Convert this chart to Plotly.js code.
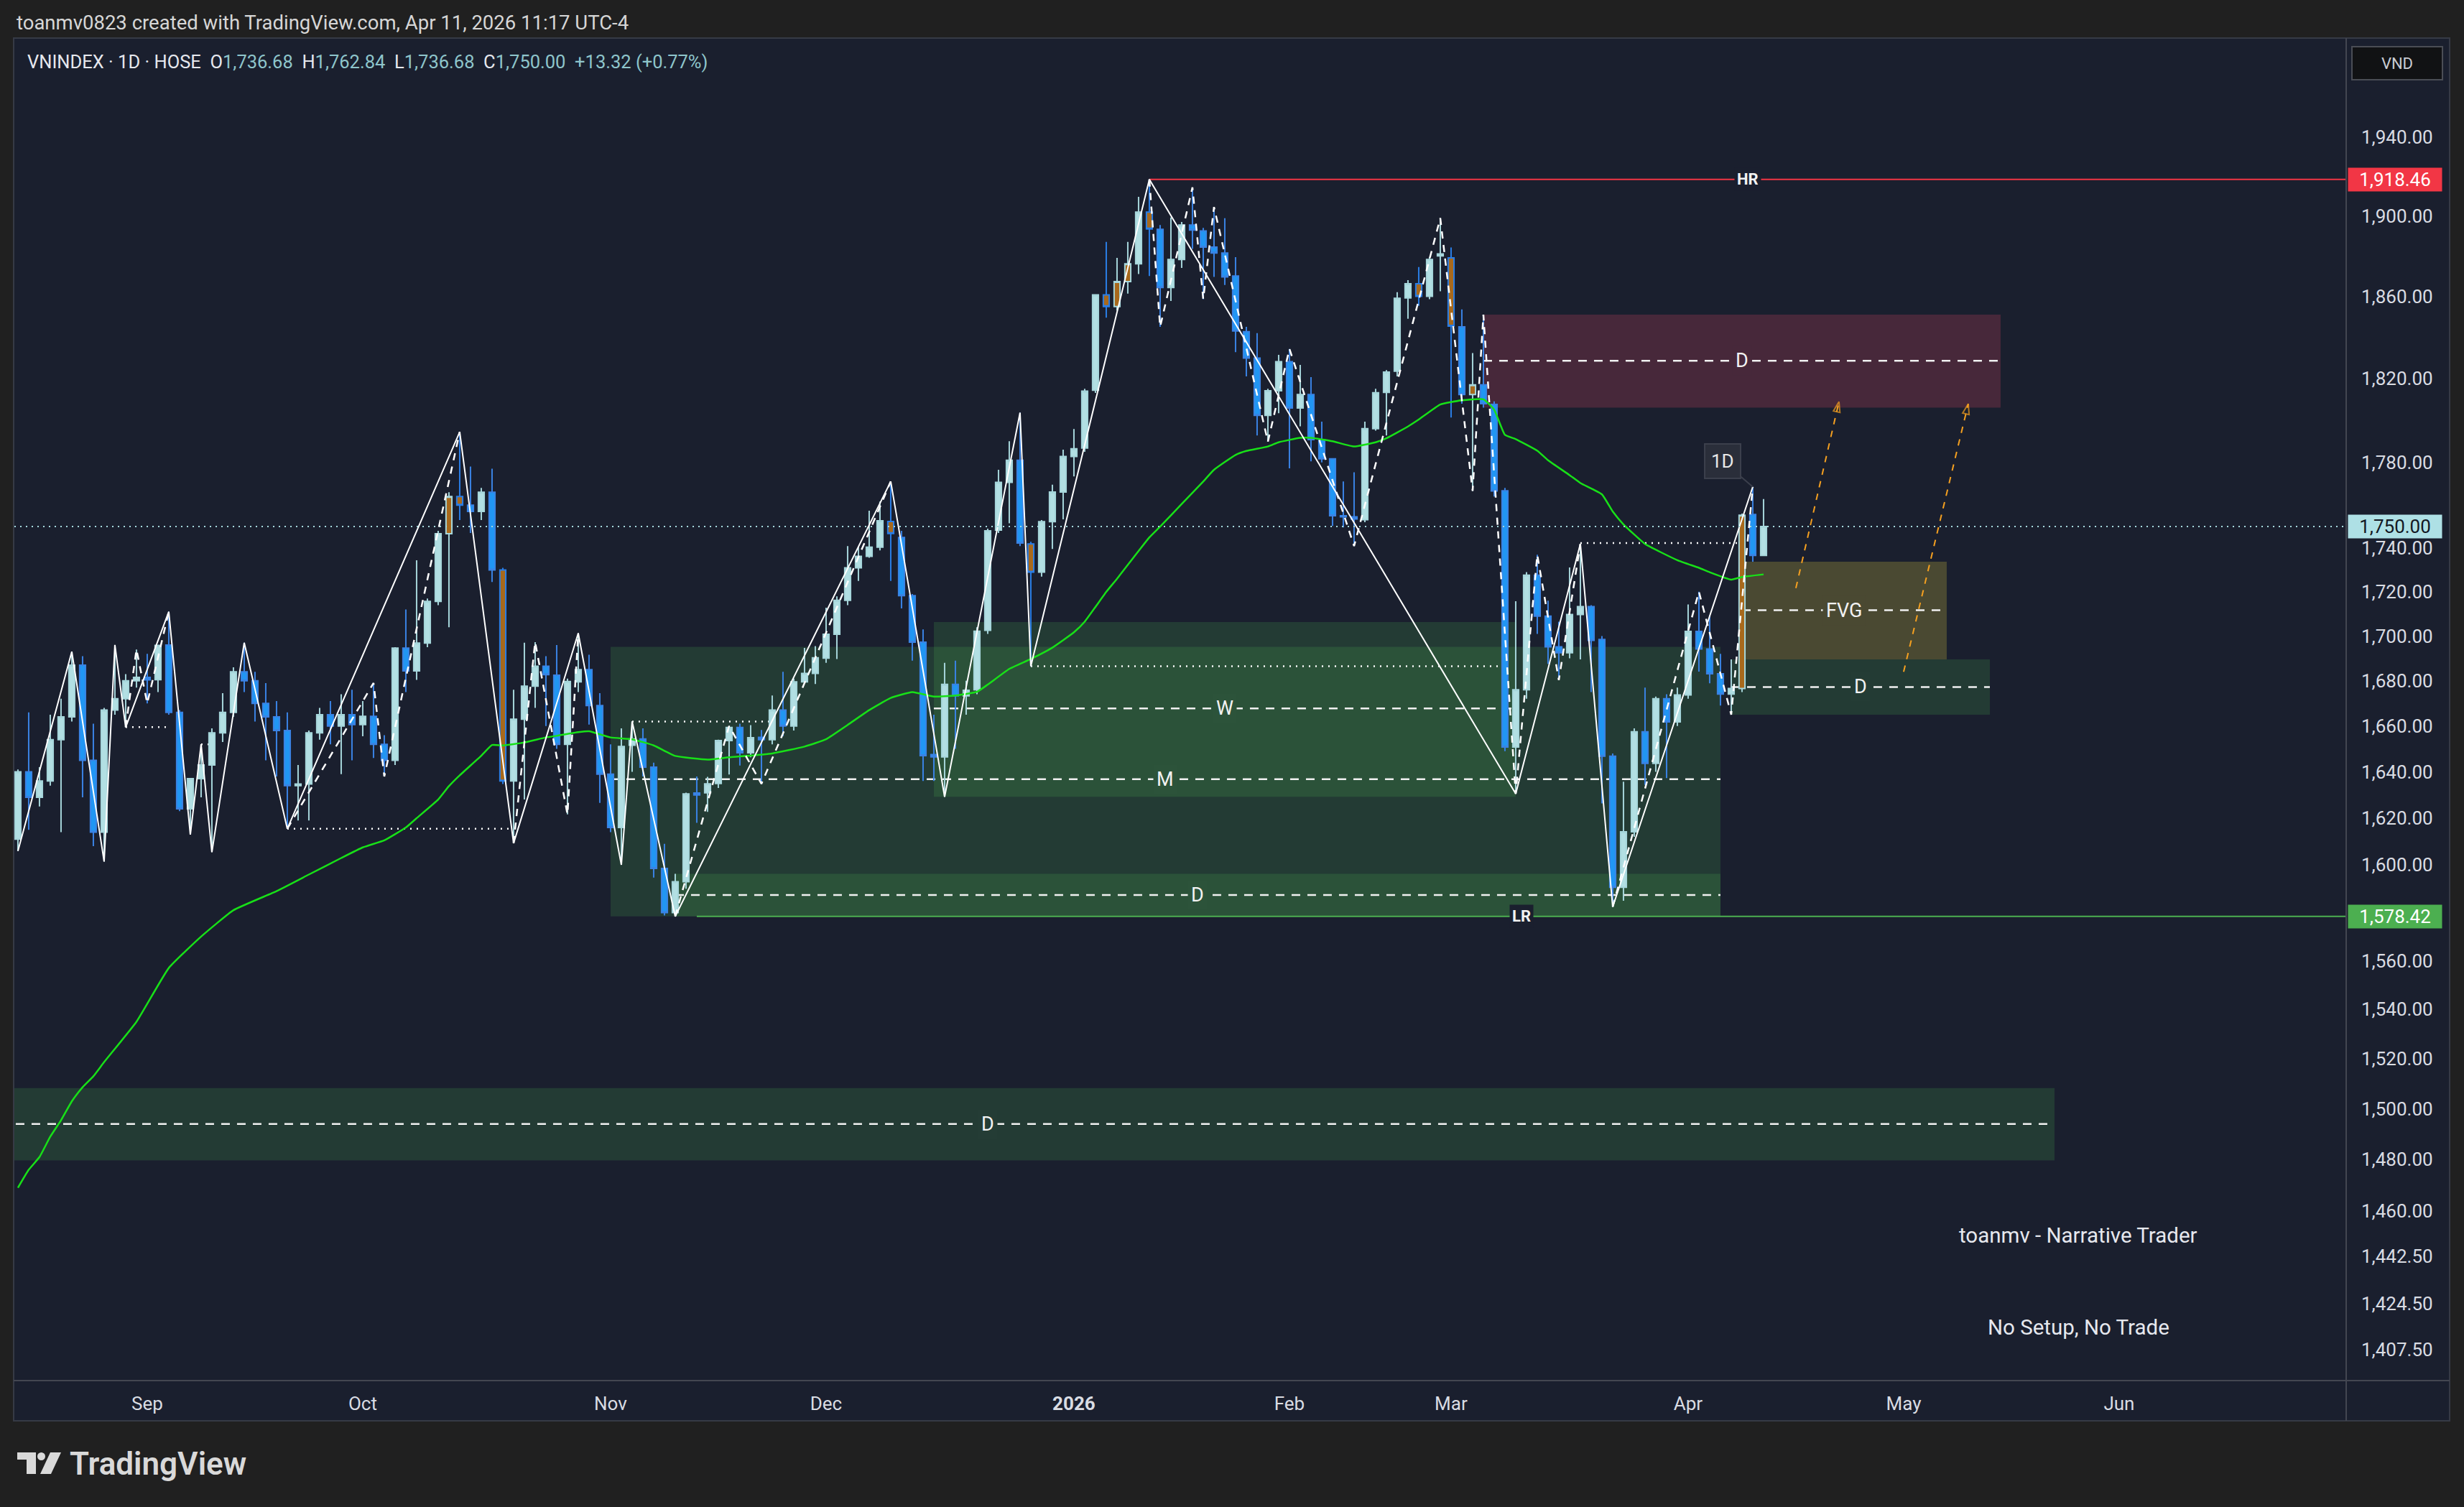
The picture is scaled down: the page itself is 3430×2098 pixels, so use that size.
<!DOCTYPE html>
<html>
<head>
<meta charset="utf-8">
<script src="https://cdn.plot.ly/plotly-3.0.1.min.js"></script>
<style>
html,body{margin:0;padding:0;background:#202020;}
#chart{width:3430px;height:2098px;}
</style>
</head>
<body>
<div id="chart"></div>
<script>
// ---------------- calendar (HOSE trading days) ----------------
const calendarStart = '2025-08-01';
const calendarEnd = '2026-06-30';
const holidays = ['2025-09-01','2025-09-02','2026-01-01','2026-01-02','2026-02-16','2026-02-17',
  '2026-02-18','2026-02-19','2026-02-20','2026-04-27','2026-04-30','2026-05-01'];

// ---------------- daily OHLC, first bar 2025-08-14 ----------------
const firstBar = '2025-08-14';
const open = [1611,1640,1629,1636,1654,1664,1687,1645,1614,1667,1672,1680,1681.5,1680.5,1696,1666,1624,1637,1643,1657,
  1666,1684,1680,1670,1664,1658,1634,1634.7,1657,1665,1660,1665,1660.6,1664.3,1652,1645,1694.6,1684.4,1696.9,1715.7,
  1746.7,1764,1760,1757,1766,1730,1636,1663,1677.6,1686.5,1682.5,1652,1679.5,1685,1669,1639,1616,1651.6,1654.3,1642,
  1598.6,1580,1593,1630.8,1630.9,1634.9,1653.6,1659.4,1648.3,1655,1654,1667,1660,1679.5,1683.3,1690.1,1700.8,1716.2,1731,1736.3,
  1740.5,1752.4,1745,1718.3,1697.3,1647.5,1646.5,1678.4,1673.3,1676,1702.6,1748.4,1770.6,1781,1742,1729,1752.3,1766.1,1782.8,1786.8,
  1814.3,1860.7,1855,1867.3,1876.1,1901.9,1893.3,1864.3,1878.2,1895.4,1892.5,1884.4,1881.4,1870,1842.7,1829.8,1802.3,1814.1,1828.1,1805.8,
  1812.3,1790.8,1781.7,1755,1754.5,1753.2,1796,1813.3,1823.5,1859.2,1866.2,1860,1880,1879,1845,1812.3,1816.9,1807.5,1766.7,1650.8,
  1676,1727.6,1709,1695.2,1692.5,1709.7,1713.3,1698.5,1646.8,1590.6,1614.2,1657.5,1643.7,1672,1661.8,1673.7,1702.1,1694.2,1683.1,1674.1,
  1676.6,1755.6,1736.68];
const high = [1641,1666,1642,1665,1672,1693,1691,1661,1668,1696,1683,1694,1692,1696,1711,1667,1637,1652,1659,1674.5,
  1686,1697,1684,1679,1671,1666,1643,1658,1668,1671,1674,1676,1671,1679,1656,1695,1712,1734.5,1717,1748,
  1766,1794.4,1778,1768,1777,1731,1676,1697,1697.3,1691,1696,1681,1701.3,1691.6,1674.5,1652,1659,1662,1659,1644,
  1609,1596.3,1631,1638,1637.8,1654,1660,1661,1660.4,1658.3,1673.5,1684,1681,1694.7,1695.5,1712.8,1718,1741,1740.5,1757.4,
  1761.6,1771,1748,1719,1703,1665,1688,1689,1680,1704,1749,1776.5,1790,1803.6,1743,1753,1769.5,1786,1795.8,1815,
  1861,1887,1879,1887,1909.6,1918.46,1895.4,1899.2,1897,1914.4,1894,1904.5,1898.9,1879.4,1845,1842,1815,1831.4,1834.3,1826.5,
  1820.6,1799.3,1782,1771,1775.3,1799.3,1815,1824,1862,1868,1874.5,1879.4,1898.9,1884.2,1853.6,1832.3,1851,1809,1768,1715.8,
  1729,1737,1716,1706.5,1731.2,1742,1714,1700,1648,1635.7,1659,1677,1673,1674,1677,1714.3,1720.1,1709.4,1692,1689.5,
  1756,1768.5,1762.84];
const low = [1606,1615,1625,1634,1614,1662,1629,1608,1601.5,1665,1659.5,1677,1670,1675,1665,1623,1613,1629,1605.5,1653,
  1664,1675,1662,1645,1638,1615.5,1619,1619,1654,1652,1639,1645,1655.5,1646,1638,1643,1675,1680.4,1695,1714,
  1704,1753,1747,1753,1724.5,1634.7,1609.3,1628,1668,1660,1650,1621.6,1675,1660.6,1626.6,1614,1600.1,1640,1638,1594.7,
  1578.8,1578.42,1590,1618,1622.7,1633,1638.8,1642.7,1646.3,1634.8,1652,1655.6,1658,1678.9,1678.6,1688,1689.7,1714,1725,1735.6,
  1739,1725,1712.5,1689,1636,1636,1629.2,1650,1665,1674,1701,1747,1751.5,1741,1686.5,1727,1739.7,1753.4,1773.4,1785,
  1813,1849.5,1853,1861.3,1871,1870,1845,1857.7,1874,1883.5,1858.6,1869.6,1865.6,1832.7,1821,1792.7,1789.8,1803.3,1777.2,1797.1,
  1780.5,1780,1750.3,1749.6,1741,1752,1795,1792.7,1821,1849,1855.3,1858.6,1862.5,1801.3,1807.9,1766.6,1806,1764,1649,1630.5,
  1672,1701,1687.5,1680.3,1690,1689.5,1675,1626.3,1582.4,1585,1612,1634.3,1640,1637.3,1660,1672,1684.1,1678.9,1669,1665,
  1675,1733.8,1736.68];
const close = [1640,1629,1636,1654,1664,1687,1645,1614,1667,1672,1680,1681.5,1680.4,1695.8,1666,1624,1637,1643,1657,1666,
  1684,1680,1670,1664,1658,1634,1634.7,1657,1665,1660,1665,1660.6,1664.3,1652,1645,1694.6,1684.4,1696.9,1715.7,1746.7,
  1764,1760,1757,1766,1730,1636,1663,1677.6,1686.5,1682.7,1652,1679.7,1685,1669,1639,1616,1651,1654.3,1642,1598.6,
  1580,1593,1630.4,1630,1634.8,1653.6,1659.4,1648.3,1654.9,1654,1667,1660,1679.5,1683.3,1690.3,1700.8,1716.2,1731,1736.3,1740.5,
  1752.7,1746.8,1718.3,1697.3,1647,1646.5,1678.4,1673.3,1675.8,1702.2,1748,1770.6,1781,1742.4,1729,1752.3,1766.1,1782.8,1786.4,1813.9,
  1860.7,1855,1867.3,1876.1,1901.9,1893.5,1864.3,1878.2,1895.4,1892.9,1884.4,1881.4,1869.6,1843,1829.8,1802.3,1814.1,1828.1,1805.8,1812.3,
  1790.8,1781.7,1755,1754.5,1753.5,1796,1813.1,1823.1,1859,1866.2,1860,1878.2,1881,1845.4,1812.3,1816.9,1807.9,1766.6,1650.8,1676,
  1727.6,1709,1695.2,1692.5,1709.7,1713.3,1698.1,1646.8,1590.6,1614.2,1657.5,1643.7,1672,1661.8,1673.7,1702.1,1694.2,1683.1,1674.1,1676.6,
  1755.3,1736.68,1750.00];
// bars highlighted in orange on the reference
const orangeBars = ['2025-10-13','2025-10-14','2025-10-20','2025-12-09','2025-12-26','2026-01-08','2026-01-09',
  '2026-01-12','2026-01-14','2026-02-25','2026-03-02','2026-03-04','2026-04-08'];

// ---------------- moving average ----------------
const smaDates = ['2025-08-14','2025-08-15','2025-08-18','2025-08-19','2025-08-20','2025-08-21','2025-08-22','2025-08-25','2025-08-26','2025-08-29',
  '2025-09-05','2025-09-10','2025-09-15','2025-09-19','2025-09-24','2025-09-29','2025-10-01','2025-10-03','2025-10-07','2025-10-08',
  '2025-10-10','2025-10-13','2025-10-14','2025-10-16','2025-10-17','2025-10-20','2025-10-22','2025-10-24','2025-10-27','2025-10-29',
  '2025-10-30','2025-11-03','2025-11-05','2025-11-07','2025-11-11','2025-11-14','2025-11-18','2025-11-24','2025-11-27','2025-12-01',
  '2025-12-03','2025-12-05','2025-12-09','2025-12-11','2025-12-15','2025-12-17','2025-12-19','2025-12-22','2025-12-24','2025-12-26',
  '2025-12-30','2026-01-05','2026-01-06','2026-01-08','2026-01-09','2026-01-14','2026-01-15','2026-01-19','2026-01-21','2026-01-22',
  '2026-01-26','2026-01-27','2026-01-29','2026-01-30','2026-02-03','2026-02-04','2026-02-06','2026-02-10','2026-02-12','2026-02-13',
  '2026-02-24','2026-02-25','2026-02-27','2026-03-03','2026-03-05','2026-03-06','2026-03-09','2026-03-10','2026-03-12','2026-03-13',
  '2026-03-17','2026-03-18','2026-03-20','2026-03-23','2026-03-24','2026-03-26','2026-03-31','2026-04-02','2026-04-03','2026-04-07',
  '2026-04-08','2026-04-10'];
const smaValues = [1469,1476,1481,1489,1495.5,1503,1508.6,1513,1518.7,1535,
  1557,1570,1581,1589,1596,1603,1607.5,1610.5,1616,1620,
  1628,1633.8,1638.5,1647,1651.7,1651.5,1652.8,1655,1655.7,1657.3,
  1657.7,1655,1654.2,1651.5,1646.9,1645.3,1646.3,1648,1651,1654.2,
  1660.5,1667,1672.4,1675,1673,1673.5,1675.1,1678.3,1685.3,1689.7,
  1694.8,1701.7,1706.5,1720,1726,1745,1750,1760.5,1771,1776.5,
  1783.5,1785.4,1787.5,1789.5,1791.6,1791.6,1790,1787.5,1789.5,1791.4,
  1797,1800.3,1807.5,1809.5,1810,1805,1793,1791,1785.5,1781,
  1774,1770.3,1765,1757,1751,1742,1734.5,1731,1729,1725.6,
  1726.8,1728];

// ---------------- swing structure ----------------
const swingDates = ['2025-08-14','2025-08-21','2025-08-26','2025-08-27','2025-08-28','2025-09-05','2025-09-09','2025-09-10','2025-09-11',
  '2025-09-16','2025-09-22','2025-10-14','2025-10-21','2025-10-29','2025-11-04','2025-11-05','2025-11-11','2025-12-09','2025-12-16',
  '2025-12-25','2025-12-26','2026-01-14','2026-03-10','2026-03-18','2026-03-23','2026-04-09'];
const swingPrices = [1606,1693,1601.5,1696,1659.5,1711,1613,1652,1605.5,
  1697,1615.5,1794.4,1609.3,1701.3,1600.1,1662,1578.42,1771,1629.2,
  1803.6,1686.5,1918.46,1630.5,1742,1582.4,1768.5];
const minorDates = ['2025-08-28','2025-08-29','2025-09-03','2025-09-05',null,
  '2025-09-22','2025-10-02','2025-10-03','2025-10-14',null,
  '2025-10-21','2025-10-23','2025-10-28','2025-10-29',null,
  '2025-11-11','2025-11-18','2025-11-21','2025-12-09',null,
  '2026-01-14','2026-01-15','2026-01-20','2026-01-21','2026-01-22','2026-01-29','2026-02-02','2026-02-10','2026-02-27',
  '2026-03-04','2026-03-05','2026-03-10','2026-03-12','2026-03-16','2026-03-18',null,
  '2026-03-23','2026-04-02','2026-04-07','2026-04-09'];
const minorPrices = [1659.5,1694,1670,1711,null,
  1615.5,1679,1638,1794.4,null,
  1609.3,1697.3,1621.6,1701.3,null,
  1578.42,1660,1634.8,1771,null,
  1918.46,1845,1914.4,1858.6,1904.5,1789.8,1834.3,1741,1898.9,
  1766.6,1851,1630.5,1737,1680.3,1742,null,
  1582.4,1720.1,1665,1768.5];
// broken-level lines: start, end, price
const levelStart = ['2025-08-28','2025-09-10','2025-09-22','2025-11-05','2025-12-26','2026-03-18'];
const levelEnd   = ['2025-09-05','2025-09-11','2025-10-21','2025-11-24','2026-03-09','2026-04-08'];
const levelPrice = [1659.5,1652,1615.5,1662,1686.5,1742.4];

// ---------------- zones ----------------
const zoneLabel = ['M','W','D','D','FVG','D','D'];
const zoneKind  = ['demand','demand','demand','supply','fvg','demand','demand'];
const zoneStart = ['2025-11-03','2025-12-15','2025-11-11','2026-03-05','2026-04-08','2026-04-07','2025-08-01'];
const zoneEnd   = ['2026-04-06','2026-03-10','2026-04-06','2026-05-15','2026-05-08','2026-05-14','2026-05-22'];
const zoneLow   = [1578.42,1629.2,1578.42,1806,1689.5,1665,1479.7];
const zoneHigh  = [1695.2,1706.3,1596.3,1851,1733.8,1689.5,1508.3];

// key levels
const hrPrice = 1918.46, hrStart = '2026-01-14';
const lrPrice = 1578.42, lrStart = '2025-11-13';
const lastPrice = 1750.00;

// projected paths (start, end)
const pathStart = [['2026-04-15',1721.7],['2026-05-04',1684.0]];
const pathEnd   = [['2026-04-21',1808.8],['2026-05-12',1807.8]];

const priceTicks = [1940,1900,1860,1820,1780,1740,1720,1700,1680,1660,1640,1620,1600,1560,1540,1520,1500,1480,1460,1442.5,1424.5,1407.5];

// ---------------- build ----------------
const calendar = [];
for (let d = new Date(calendarStart + 'T00:00:00Z'); d <= new Date(calendarEnd + 'T00:00:00Z'); d.setUTCDate(d.getUTCDate() + 1)) {
  const wd = d.getUTCDay();
  const s = d.toISOString().slice(0, 10);
  if (wd === 0 || wd === 6 || holidays.includes(s)) continue;
  calendar.push(s);
}
const idx = s => calendar.indexOf(s);
const i0 = idx(firstBar);
const barDates = calendar.slice(i0, i0 + open.length);
const xs = barDates.map(idx);
const isOrange = barDates.map(d => orangeBars.includes(d));
const pick = (arr, want) => arr.filter((_, i) => isOrange[i] === want);

const monthNames = ['Jan','Feb','Mar','Apr','May','Jun','Jul','Aug','Sep','Oct','Nov','Dec'];
const tickvals = [], ticktext = [];
calendar.forEach((d, i) => {
  if (i > 0 && d.slice(5, 7) !== calendar[i - 1].slice(5, 7)) {
    const m = +d.slice(5, 7) - 1;
    tickvals.push(i);
    ticktext.push(m === 0 ? '<b>' + d.slice(0, 4) + '</b>' : monthNames[m]);
  }
});
const fmt = v => v.toLocaleString('en-US', {minimumFractionDigits: 2, maximumFractionDigits: 2});
const L10 = Math.log10;

// geometry
const PL = 20, PR = 3266, PT = 53, PB = 1922;
const px2x = p => (p - PL) / (PR - PL);
const py2y = p => (PB - p) / (PB - PT);
const xMin = i0 - 0.33, xMax = idx(calendarEnd) + 0.07;

const FONT = 'Roboto, "Noto Sans", "Open Sans", sans-serif';
const BG = '#1a1f2e';
const BULL_FILL = '#b2dfe3', BULL_LINE = '#a6d6db';
const BEAR_FILL = '#2196f3', BEAR_LINE = '#3a83e4';
const ORANGE = '#a8691c';

const traces = [];
traces.push({
  type: 'candlestick', x: pick(xs, false), open: pick(open, false), high: pick(high, false),
  low: pick(low, false), close: pick(close, false), whiskerwidth: 0, hoverinfo: 'skip', showlegend: false,
  increasing: {line: {color: BULL_LINE, width: 2}, fillcolor: BULL_FILL},
  decreasing: {line: {color: BEAR_LINE, width: 2}, fillcolor: BEAR_FILL}
});
traces.push({
  type: 'candlestick', x: pick(xs, true), open: pick(open, true), high: pick(high, true),
  low: pick(low, true), close: pick(close, true), whiskerwidth: 0, hoverinfo: 'skip', showlegend: false,
  increasing: {line: {color: BULL_LINE, width: 2}, fillcolor: ORANGE},
  decreasing: {line: {color: '#2a7ee6', width: 2}, fillcolor: ORANGE}
});
traces.push({type: 'scatter', mode: 'lines', x: smaDates.map(idx), y: smaValues,
  line: {color: '#18e018', width: 2.5, shape: 'spline', smoothing: 0.4}, hoverinfo: 'skip', showlegend: false});
traces.push({type: 'scatter', mode: 'lines', x: minorDates.map(d => d === null ? null : idx(d)), y: minorPrices,
  connectgaps: false, line: {color: '#ffffff', width: 2.5, dash: '10px,9px'}, hoverinfo: 'skip', showlegend: false});
traces.push({type: 'scatter', mode: 'lines', x: swingDates.map(idx), y: swingPrices,
  line: {color: '#ffffff', width: 2}, hoverinfo: 'skip', showlegend: false});
pathStart.forEach((p, k) => {
  traces.push({type: 'scatter', mode: 'lines+markers', x: [idx(p[0]), idx(pathEnd[k][0])], y: [p[1], pathEnd[k][1]],
    line: {color: '#f5a020', width: 2, dash: '9px,9px'},
    marker: {size: [0, 15], symbol: 'arrow-open', angleref: 'previous', color: '#f5a020', line: {color: '#f5a020', width: 2}},
    hoverinfo: 'skip', showlegend: false});
});

// ---------------- shapes ----------------
const shapes = [];
// chart panel
shapes.push({type: 'rect', xref: 'paper', yref: 'paper', x0: px2x(19), x1: px2x(3410), y0: py2y(1978), y1: py2y(53),
  fillcolor: BG, line: {color: '#363a45', width: 2}, layer: 'below'});
const zoneFill = {demand: 'rgba(76,175,80,0.2)', supply: '#47283a', fvg: '#4a4932'};
const zoneLabelBg = ['#2c533a', '#2c533a', '#2c533a', '#47283a', '#4a4932', '#243c35', '#243c35'];
zoneLabel.forEach((lab, k) => {
  shapes.push({type: 'rect', xref: 'x', yref: 'y', x0: idx(zoneStart[k]), x1: idx(zoneEnd[k]), y0: zoneLow[k], y1: zoneHigh[k],
    fillcolor: zoneFill[zoneKind[k]], line: {width: 0}, layer: 'below'});
});
zoneLabel.forEach((lab, k) => {
  const mid = (zoneLow[k] + zoneHigh[k]) / 2;
  shapes.push({type: 'line', xref: 'x', yref: 'y', x0: idx(zoneStart[k]), x1: idx(zoneEnd[k]), y0: mid, y1: mid,
    line: {color: '#f0f0f0', width: 2.5, dash: '12px,10px'}, layer: 'below'});
});
levelPrice.forEach((p, k) => {
  shapes.push({type: 'line', xref: 'x', yref: 'y', x0: idx(levelStart[k]), x1: idx(levelEnd[k]), y0: p, y1: p,
    line: {color: '#ffffff', width: 2.5, dash: '2px,7px'}, layer: 'below'});
});
shapes.push({type: 'line', xref: 'x', yref: 'y', x0: idx(hrStart), x1: xMax, y0: hrPrice, y1: hrPrice,
  line: {color: '#f23645', width: 2}, layer: 'below'});
shapes.push({type: 'line', xref: 'x', yref: 'y', x0: idx(lrStart), x1: xMax, y0: lrPrice, y1: lrPrice,
  line: {color: '#4caf50', width: 2}, layer: 'below'});
shapes.push({type: 'line', xref: 'paper', yref: 'y', x0: 0, x1: 1, y0: lastPrice, y1: lastPrice,
  line: {color: '#a6d9de', width: 2, dash: '2px,6px'}, layer: 'above'});
// axis separators
shapes.push({type: 'line', xref: 'paper', yref: 'paper', x0: px2x(19), x1: px2x(3410), y0: 0, y1: 0,
  line: {color: '#434651', width: 2}, layer: 'above'});
shapes.push({type: 'line', xref: 'paper', yref: 'paper', x0: 1, x1: 1, y0: py2y(1978), y1: 1,
  line: {color: '#434651', width: 2}, layer: 'above'});
// TradingView logo mark
const logo = 'M24,2022 L50,2022 L50,2052 L37,2052 L37,2032 L24,2032 Z';
shapes.push({type: 'path', xref: 'paper', yref: 'paper', layer: 'above', fillcolor: '#d9d9d9', line: {width: 0},
  path: logo.replace(/(\d+),(\d+)/g, (m, a, b) => px2x(+a) + ',' + py2y(+b))});
shapes.push({type: 'circle', xref: 'paper', yref: 'paper', layer: 'above', fillcolor: '#d9d9d9', line: {width: 0},
  x0: px2x(52), x1: px2x(63), y0: py2y(2033), y1: py2y(2022)});
const slash = 'M70,2022 L85,2022 L71,2052 L56,2052 Z';
shapes.push({type: 'path', xref: 'paper', yref: 'paper', layer: 'above', fillcolor: '#d9d9d9', line: {width: 0},
  path: slash.replace(/(\d+),(\d+)/g, (m, a, b) => px2x(+a) + ',' + py2y(+b))});

// ---------------- annotations ----------------
const ann = [];
zoneLabel.forEach((lab, k) => {
  ann.push({xref: 'x', yref: 'y', x: (idx(zoneStart[k]) + idx(zoneEnd[k])) / 2, y: L10((zoneLow[k] + zoneHigh[k]) / 2),
    text: lab, showarrow: false, font: {family: FONT, size: 27, color: '#f2f2f2'},
    bgcolor: zoneLabelBg[k], borderpad: 4, xanchor: 'center', yanchor: 'middle'});
});
ann.push({xref: 'x', yref: 'y', x: (idx(hrStart) + xMax) / 2, y: L10(hrPrice), text: '<b>HR</b>', showarrow: false,
  font: {family: FONT, size: 22, color: '#f2f2f2'}, bgcolor: BG, borderpad: 3});
ann.push({xref: 'x', yref: 'y', x: (idx(lrStart) + xMax) / 2, y: L10(lrPrice), text: '<b>LR</b>', showarrow: false,
  font: {family: FONT, size: 22, color: '#f2f2f2'}, bgcolor: BG, borderpad: 3});
// 1D callout on last swing high
ann.push({xref: 'x', yref: 'y', x: idx('2026-04-09'), y: L10(1768.5), text: '1D', showarrow: true, arrowhead: 0,
  arrowwidth: 2, arrowcolor: '#3b3f4c', ax: -42, ay: -36, font: {family: FONT, size: 26, color: '#e8e8e8'},
  bgcolor: '#2a2e3a', bordercolor: '#3b3f4c', borderwidth: 2, borderpad: 8});
// right-axis price tags
[[hrPrice, '#f23645', '#ffffff'], [lastPrice, '#aee0e5', '#131722'], [lrPrice, '#4caf50', '#ffffff']].forEach(t => {
  ann.push({xref: 'paper', yref: 'y', x: 1, y: L10(t[0]), xanchor: 'left', yanchor: 'middle', xshift: 2,
    text: fmt(t[0]), showarrow: false, font: {family: FONT, size: 26, color: t[2]}, bgcolor: t[1],
    width: 128, height: 30, borderpad: 1, align: 'center'});
});
// VND
ann.push({xref: 'paper', yref: 'paper', x: px2x(3337), y: py2y(88), text: 'VND', showarrow: false,
  font: {family: FONT, size: 22, color: '#c9ccd3'}, bgcolor: '#111214', bordercolor: '#4a4d55', borderwidth: 2,
  width: 122, height: 42, xanchor: 'center', yanchor: 'middle'});
// header
ann.push({xref: 'paper', yref: 'paper', x: px2x(21), y: py2y(32), xanchor: 'left', yanchor: 'middle', showarrow: false,
  text: 'toanmv0823 created with TradingView.com, Apr 11, 2026 11:17 UTC-4',
  font: {family: FONT, size: 27.5, color: '#d6d6d6'}});
const tv = s => '<span style="color:#8ec5cb">' + s + '</span>';
const prevClose = close[close.length - 2], lastClose = close[close.length - 1];
const chg = lastClose - prevClose;
ann.push({xref: 'paper', yref: 'paper', x: px2x(36), y: py2y(86), xanchor: 'left', yanchor: 'middle', showarrow: false,
  text: 'VNINDEX · 1D · HOSE\u00a0\u00a0O' + tv(fmt(open[open.length - 1])) + '\u00a0\u00a0H' + tv(fmt(high[high.length - 1])) +
    '\u00a0\u00a0L' + tv(fmt(low[low.length - 1])) + '\u00a0\u00a0C' + tv(fmt(lastClose)) + '\u00a0\u00a0' +
    tv('+' + fmt(chg) + ' (+' + (chg / prevClose * 100).toFixed(2) + '%)'),
  font: {family: FONT, size: 25.5, color: '#e6e8ee'}});
// footer texts
ann.push({xref: 'paper', yref: 'paper', x: px2x(2893), y: py2y(1720), text: 'toanmv - Narrative Trader', showarrow: false,
  font: {family: FONT, size: 29.5, color: '#e6e8ee'}, xanchor: 'center', yanchor: 'middle'});
ann.push({xref: 'paper', yref: 'paper', x: px2x(2893), y: py2y(1848), text: 'No Setup, No Trade', showarrow: false,
  font: {family: FONT, size: 29.5, color: '#e6e8ee'}, xanchor: 'center', yanchor: 'middle'});
ann.push({xref: 'paper', yref: 'paper', x: px2x(95), y: py2y(2038), text: 'TradingView', showarrow: false,
  font: {family: FONT, size: 44, color: '#d9d9d9', weight: 600}, xanchor: 'left', yanchor: 'middle'});

const layout = {
  width: 3430, height: 2098,
  paper_bgcolor: '#202020', plot_bgcolor: BG,
  margin: {l: PL, r: 3430 - PR, t: PT, b: 2098 - PB, pad: 0},
  showlegend: false, boxgap: 0.22,
  xaxis: {type: 'linear', range: [xMin, xMax], tickvals: tickvals, ticktext: ticktext, showgrid: false, zeroline: false,
    showline: false, ticks: '', ticklabelstandoff: 14, rangeslider: {visible: false},
    tickfont: {family: FONT, size: 26, color: '#d9dce3'}, fixedrange: true},
  yaxis: {type: 'log', side: 'right', range: [L10(1395.9), L10(1991.6)], tickvals: priceTicks, ticktext: priceTicks.map(fmt),
    showgrid: false, zeroline: false, showline: false, ticks: '', ticklabelstandoff: 20,
    tickfont: {family: FONT, size: 26, color: '#d9dce3'}, fixedrange: true},
  shapes: shapes, annotations: ann
};
Plotly.newPlot('chart', traces, layout, {staticPlot: true, displayModeBar: false});
</script>
</body>
</html>
